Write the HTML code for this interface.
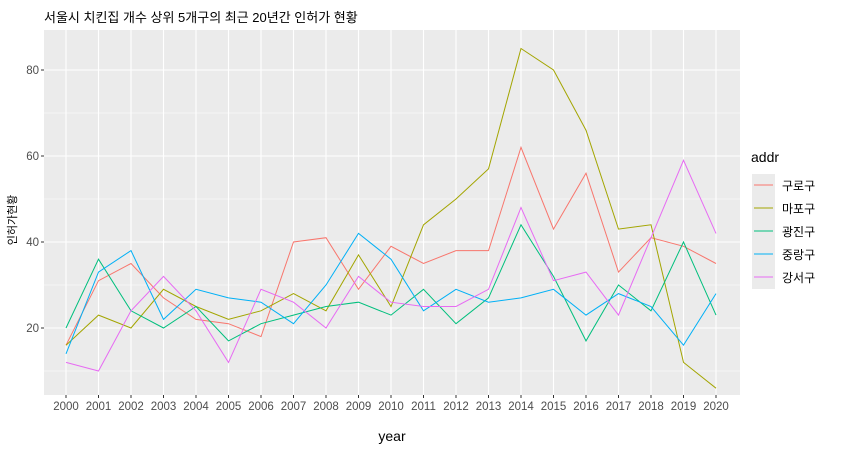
<!DOCTYPE html>
<html><head><meta charset="utf-8"><style>
body{margin:0;background:#fff;font-family:"Liberation Sans","Noto Sans CJK KR",sans-serif}
</style></head><body>
<svg id="c" width="859" height="450" xmlns="http://www.w3.org/2000/svg" style="font-family:'Liberation Sans','Noto Sans CJK KR',sans-serif"></svg>
<script>
const years=[2000,2001,2002,2003,2004,2005,2006,2007,2008,2009,2010,2011,2012,2013,2014,2015,2016,2017,2018,2019,2020];
const seriesNames=["구로구","마포구","광진구","중랑구","강서구"];
const guro=[16,31,35,27,22,21,18,40,41,29,39,35,38,38,62,43,56,33,41,39,35];
const mapo=[16,23,20,29,25,22,24,28,24,37,25,44,50,57,85,80,66,43,44,12,6];
const gwangjin=[20,36,24,20,25,17,21,23,25,26,23,29,21,27,44,32,17,30,24,40,23];
const jungnang=[14,33,38,22,29,27,26,21,30,42,36,24,29,26,27,29,23,28,25,16,28];
const gangseo=[12,10,24,32,24,12,29,26,20,32,26,25,25,29,48,31,33,23,41,59,42];
const yTicks=[20,40,60,80];
const colors=["#F8766D","#A3A500","#00BF7D","#00B0F6","#E76BF3"];
const data=[guro,mapo,gwangjin,jungnang,gangseo];
const svg=document.getElementById('c');const NS="http://www.w3.org/2000/svg";
const L=44,R=740,T=30,B=395;
const x=y=>66+(y-2000)*32.5;
const yv=v=>328-(v-20)*4.3;
function mk(t,a,p){const e=document.createElementNS(NS,t);for(const k in a)e.setAttribute(k,a[k]);(p||svg).appendChild(e);return e;}
const bg=mk('rect',{x:L,y:T,width:R-L,height:B-T,fill:'#EBEBEB'});


for(let v=10;v<=90;v+=10){const yy=yv(v);if(yy<T||yy>B)continue;mk('line',{x1:L,x2:R,y1:yy,y2:yy,stroke:'#fff','stroke-width':v%20==0?1.1:0.5});}
years.forEach(yr=>{mk('line',{x1:x(yr),x2:x(yr),y1:T,y2:B,stroke:'#fff','stroke-width':1.1});
const t=mk('text',{x:x(yr),y:B+15,'text-anchor':'middle','font-size':11.5,fill:'#4D4D4D'});t.textContent=yr;


mk('line',{x1:x(yr),x2:x(yr),y1:B,y2:B+3,stroke:'#333'});});
yTicks.forEach(v=>{const t=mk('text',{x:L-5,y:yv(v)+4,'text-anchor':'end','font-size':11.5,fill:'#4D4D4D'});t.textContent=v;


mk('line',{x1:L-3,x2:L,y1:yv(v),y2:yv(v),stroke:'#333'});});
data.forEach((s,i)=>{const p=mk('polyline',{points:s.map((v,j)=>x(years[j])+','+yv(v)).join(' '),fill:'none',stroke:colors[i],'stroke-width':1});

});
let t=mk('text',{x:44,y:22,'font-size':13,fill:'#000'});t.textContent="서울시 치킨집 개수 상위 5개구의 최근 20년간 인허가 현황";


t=mk('text',{x:392,y:441,'text-anchor':'middle','font-size':14,fill:'#000'});t.textContent="year";


t=mk('text',{x:16,y:220,'text-anchor':'middle','font-size':11,fill:'#000',transform:'rotate(-90 16 220)'});t.textContent="인허가현황";


t=mk('text',{x:751,y:162,'font-size':14,fill:'#000'});t.textContent="addr";


seriesNames.forEach((n,i)=>{const cy=185+i*23;
const g=mk('g',{});

mk('rect',{x:752,y:cy-11,width:23,height:23,fill:'#EBEBEB'},g);
mk('line',{x1:754,x2:773,y1:cy,y2:cy,stroke:colors[i]},g);
const tt=mk('text',{x:782,y:cy+5,'font-size':12,fill:'#000'},g);tt.textContent=n;});
</script>
</body></html>
